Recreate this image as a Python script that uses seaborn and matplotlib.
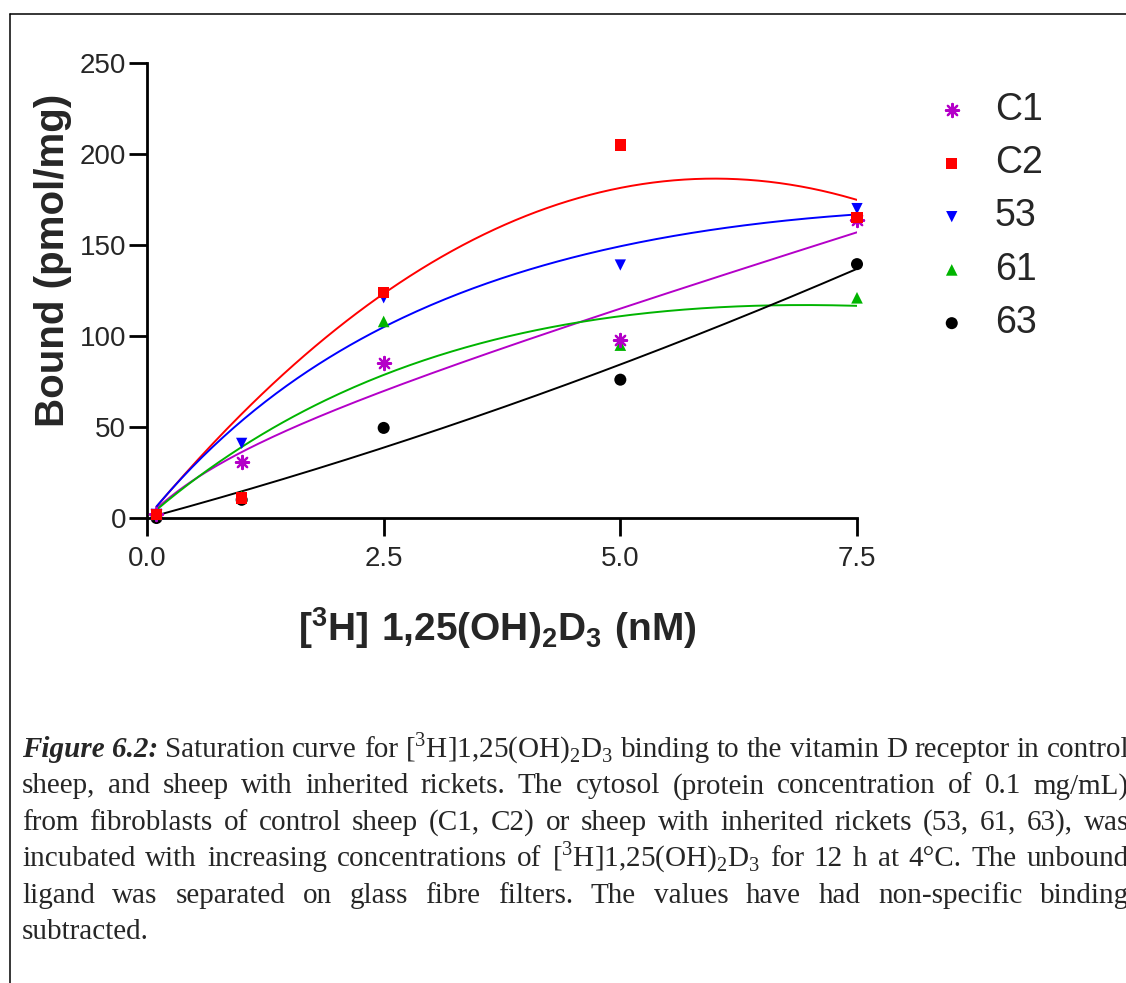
import numpy as np
import matplotlib
matplotlib.use("Agg")
import matplotlib.pyplot as plt
import seaborn as sns
from matplotlib.lines import Line2D

# ---- data (hidden points estimated) ----
conc = [0.1, 1.0, 2.5, 5.0, 7.5]          # [3H]1,25(OH)2D3 (nM)
series = ['C1', 'C2', '53', '61', '63']
bound_c1 = [2, 31, 85, 98, 164]
bound_c2 = [2, 11, 124, 205, 165]
bound_53 = [2, 41, 121, 139, 170]
bound_61 = [2, 12, 108, 95, 121]
bound_63 = [0, 10, 49.5, 76, 139.5]
xticks = [0.0, 2.5, 5.0, 7.5]
yticks = [0, 50, 100, 150, 200, 250]

values = {'C1': bound_c1, 'C2': bound_c2, '53': bound_53, '61': bound_61, '63': bound_63}
colors = {'C1': '#B400C8', 'C2': '#FF0000', '53': '#0000FF', '61': '#00B400', '63': '#000000'}
markers = {'C1': (8, 2, 0), 'C2': 's', '53': 'v', '61': '^', '63': 'o'}
sizes = {'C1': 90, 'C2': 66, '53': 66, '61': 70, '63': 75}
zorders = {'63': 3, '61': 4, '53': 5, 'C1': 6, 'C2': 7}


def fit_total_binding(x, y):
    # Y = Bmax*X/(Kd+X) + NS*X, Kd by grid search, Bmax/NS by least squares
    x = np.asarray(x, float)
    y = np.asarray(y, float)
    best = None
    for kd in np.logspace(-2, 3, 3000):
        A = np.column_stack([x / (kd + x), x])
        coef = np.linalg.lstsq(A, y, rcond=None)[0]
        sse = np.sum((A @ coef - y) ** 2)
        if best is None or sse < best[0]:
            best = (sse, kd, coef)
    kd, (bmax, ns) = best[1], best[2]
    return lambda xx: bmax * xx / (kd + xx) + ns * xx


W, H = 1126, 983
sns.set_theme(style="ticks")
plt.rcParams['font.family'] = ['Liberation Sans', 'DejaVu Sans']
plt.rcParams['mathtext.fontset'] = 'custom'
plt.rcParams['mathtext.rm'] = 'Liberation Serif'
plt.rcParams['mathtext.bf'] = 'Liberation Sans:bold'

fig = plt.figure(figsize=(W / 100, H / 100), dpi=100)
fig.patch.set_facecolor('white')
ax = fig.add_axes([147 / W, 1 - 518 / H, 710 / W, 455 / H])
ax.set_facecolor('white')

xs = np.linspace(conc[0], conc[-1], 200)
handles = []
for name in series:
    curve = fit_total_binding(conc, values[name])
    sns.lineplot(x=xs, y=curve(xs), color=colors[name], lw=1.4,
                 ax=ax, legend=False, zorder=2)
for name in series:
    filled = markers[name] != (8, 2, 0)
    sns.scatterplot(x=conc, y=values[name], color=colors[name], marker=markers[name],
                    s=sizes[name], edgecolor='none' if filled else colors[name],
                    linewidth=0 if filled else 1.6, ax=ax, zorder=zorders[name],
                    clip_on=False, legend=False)
    handles.append(ax.collections[-1])

ax.set_xlim(0, 7.5)
ax.set_ylim(0, 250)
ax.set_xticks(xticks)
ax.set_xticklabels([f"{t:.1f}" for t in xticks])
ax.set_yticks(yticks)
ax.tick_params(axis='both', labelsize=20, width=2, length=13, color='black')
ax.tick_params(axis='y', pad=2)
ax.tick_params(axis='x', pad=7)
for side in ['left', 'bottom']:
    ax.spines[side].set_linewidth(2)
    ax.spines[side].set_color('black')
sns.despine(ax=ax)

ax.set_ylabel('Bound (pmol/mg)', fontsize=29, fontweight='bold')
ax.yaxis.set_label_coords(-0.105, 0.567)
ax.set_xlabel(r'$\mathbf{[^{3}H]\ 1{,}25(OH)_{2}D_{3}\ (nM)}$', fontsize=28)
ax.xaxis.label.set_verticalalignment('center')
ax.xaxis.set_label_coords(0.494, -0.242)

fig.legend(handles, series, loc='upper left', bbox_to_anchor=(933 / W, 1 - 92 / H),
           frameon=False, fontsize=27, handlelength=1.0, handletextpad=0.65,
           labelspacing=0.46, borderpad=0, borderaxespad=0, scatterpoints=1)

# ---- page frame ----
fig.add_artist(Line2D([10 / W, 1], [1 - 14 / H, 1 - 14 / H], transform=fig.transFigure,
                      color='black', lw=1.1))
fig.add_artist(Line2D([10 / W, 10 / W], [0, 1 - 14 / H], transform=fig.transFigure,
                      color='black', lw=1.1))

# ---- caption, justified ----
chem = r'[$^{3}$H]1,25(OH)$_{2}$D$_{3}$'
caption = [
    "Figure 6.2: Saturation curve for " + chem + " binding to the vitamin D receptor in control",
    "sheep, and sheep with inherited rickets.  The cytosol (protein concentration of 0.1 mg/mL)",
    "from fibroblasts of control sheep (C1, C2) or sheep with inherited rickets (53, 61, 63), was",
    "incubated with increasing concentrations of " + chem + " for 12 h at 4°C.  The unbound",
    "ligand was separated on glass fibre filters.  The values have had non-specific binding",
    "subtracted.",
]
left_px, right_px = 22, 1129
base0, step = 757, 36.4
renderer = fig.canvas.get_renderer()
for i, line in enumerate(caption):
    words = line.split()
    y = 1 - (base0 + i * step) / H
    texts = []
    for j, w in enumerate(words):
        bold_it = (i == 0 and j < 2)
        t = fig.text(0, y, w, fontsize=21, family=['Liberation Serif', 'DejaVu Serif'],
                     fontweight='bold' if bold_it else 'normal',
                     fontstyle='italic' if bold_it else 'normal',
                     va='baseline', ha='left')
        texts.append(t)
    widths = [t.get_window_extent(renderer).width for t in texts]
    if i < len(caption) - 1 and len(words) > 1:
        gap = (right_px - left_px - sum(widths)) / (len(words) - 1)
    else:
        gap = 0.25 * 21 * 100 / 72
    x = left_px
    for t, wdt in zip(texts, widths):
        t.set_x(x / W)
        x += wdt + gap

fig.savefig('out.png', dpi=100, facecolor='white')
